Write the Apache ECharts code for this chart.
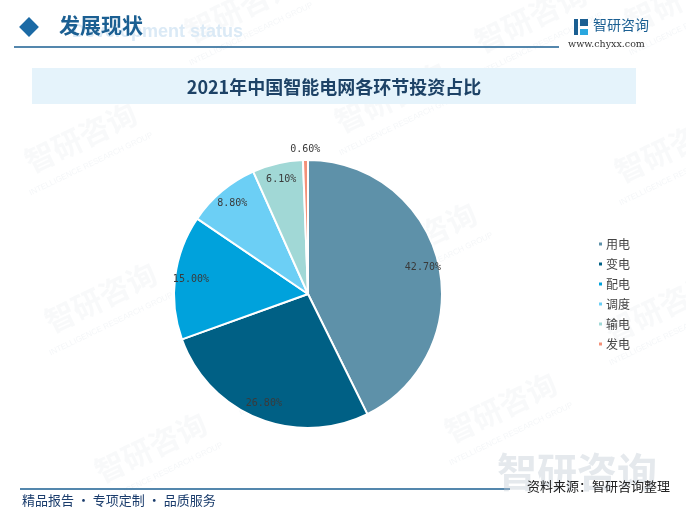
<!DOCTYPE html>
<html>
<head>
<meta charset="utf-8">
<script src="https://cdn.jsdelivr.net/npm/echarts@6/dist/echarts.min.js"></script>
<style>
  html, body { margin: 0; padding: 0; background: #fff; }
  #show_picture { width: 686px; height: 521px; }
</style>
</head>
<body>
<div id="show_picture"></div>
<script>
// 数据
const names = ['用电', '变电', '配电', '调度', '输电', '发电'];
const values = [42.7, 26.8, 15.0, 8.8, 6.1, 0.6];
const colors = ['#5e91a9', '#006085', '#00a2dc', '#6ccff5', '#a1d8d6', '#f39179'];

let myChart = echarts.init(document.getElementById('show_picture'));

const cx = 308, cy = 294;
const fontCN = '"Noto Sans CJK SC", sans-serif';

// 水印
let marks = [];
const wmPos = [[20, 150], [180, 20], [330, 110], [470, 30], [610, 160], [40, 310], [230, 370], [440, 420], [600, 320], [90, 460], [360, 250], [620, 10]];
for (let p of wmPos) {
    marks.push({
        type: 'text', x: p[0], y: p[1], rotation: Math.PI / 7, silent: true, z: 0,
        style: { text: '智研咨询', fill: 'rgba(200,210,220,0.13)', font: 'bold 30px ' + fontCN }
    });
    marks.push({
        type: 'text', x: p[0] + 8, y: p[1] + 40, rotation: Math.PI / 7, silent: true, z: 0,
        style: { text: 'INTELLIGENCE RESEARCH GROUP', fill: 'rgba(200,210,220,0.2)', font: '8px sans-serif' }
    });
}

let data = names.map((n, i) => ({ name: n, value: values[i], itemStyle: { color: colors[i] } }));

const labelStyle = {
    show: true, position: 'inside', formatter: p => p.value.toFixed(2) + '%',
    color: '#3a3a3a', fontSize: 10, fontFamily: '"DejaVu Sans Mono", monospace'
};

let option = {
    animation: false,
    backgroundColor: '#fff',
    legend: {
        orient: 'vertical',
        left: 592,
        top: 233,
        itemWidth: 5,
        itemHeight: 5,
        itemGap: 8,
        icon: 'rect',
        data: names,
        textStyle: { color: '#444', fontSize: 12, fontFamily: fontCN, padding: [0, 0, 0, -2] }
    },
    graphic: marks.concat([
        // 头部
        { type: 'rect', shape: { x: 22, y: 20, width: 14, height: 14 }, rotation: Math.PI / 4, originX: 29, originY: 27, style: { fill: '#1b6aa5' } },
        { type: 'text', x: 243, y: 23, style: { text: 'Development status', align: 'right', fill: '#dbeaf6', font: 'bold 18px Arial, sans-serif' } },
        { type: 'text', x: 59, y: 15, style: { text: '发展现状', fill: '#1b5f92', font: 'bold 21px ' + fontCN } },
        { type: 'line', shape: { x1: 14, y1: 47, x2: 559, y2: 47 }, style: { stroke: '#1b5f92', lineWidth: 1.5 } },
        { type: 'rect', shape: { x: 574, y: 19, width: 4, height: 16 }, style: { fill: '#1b5f92' } },
        { type: 'rect', shape: { x: 580, y: 19, width: 8, height: 7 }, style: { fill: '#1b5f92' } },
        { type: 'rect', shape: { x: 580, y: 29, width: 8, height: 6 }, style: { fill: '#2aa7df' } },
        { type: 'text', x: 593, y: 18, style: { text: '智研咨询', fill: '#1b5f92', font: '14px ' + fontCN } },
        { type: 'text', x: 568, y: 40, style: { text: 'www.chyxx.com', fill: '#333', font: '9.5px "DejaVu Serif", serif' } },
        // 标题框
        { type: 'rect', shape: { x: 32, y: 68, width: 604, height: 36 }, style: { fill: '#e5f3fb' } },
        { type: 'text', x: 334, y: 87, style: { text: '2021年中国智能电网各环节投资占比', align: 'center', verticalAlign: 'middle', fill: '#1d4266', font: 'bold 18px ' + fontCN } },
        // 底部
        { type: 'line', shape: { x1: 20, y1: 489, x2: 510, y2: 489 }, style: { stroke: '#1b5f92', lineWidth: 1.5 } },
        { type: 'text', x: 497, y: 452, style: { text: '智研咨询', fill: 'rgba(190,200,210,0.4)', font: 'bold 40px ' + fontCN } },
        { type: 'text', x: 22, y: 494, style: { text: '精品报告 · 专项定制 · 品质服务', fill: '#1a3c6c', font: '13px ' + fontCN } },
        { type: 'text', x: 670, y: 480, style: { text: '资料来源：智研咨询整理', align: 'right', fill: '#222', font: '13px ' + fontCN } }
    ]),
    series: [
        {
            type: 'pie',
            center: [cx, cy],
            radius: [0, 134],
            startAngle: 90,
            clockwise: true,
            avoidLabelOverlap: false,
            label: { show: false },
            labelLine: { show: false },
            itemStyle: { borderColor: '#fff', borderWidth: 2 },
            data: data,
            z: 2
        },
        {
            // 标签环（内部）
            type: 'pie',
            center: [cx, cy],
            radius: [96, 134],
            startAngle: 90,
            silent: true,
            avoidLabelOverlap: false,
            itemStyle: { color: 'rgba(0,0,0,0)' },
            label: labelStyle,
            labelLine: { show: false },
            data: names.map((n, i) => ({ name: n, value: values[i], label: { show: i < names.length - 1 } })),
            z: 3
        },
        {
            // 标签环（外部，小扇区）
            type: 'pie',
            center: [cx, cy],
            radius: [134, 150],
            startAngle: 90,
            silent: true,
            avoidLabelOverlap: false,
            itemStyle: { color: 'rgba(0,0,0,0)' },
            label: labelStyle,
            labelLine: { show: false },
            data: names.map((n, i) => ({ name: n, value: values[i], label: { show: i === names.length - 1 } })),
            z: 3
        }
    ]
};

option && myChart.setOption(option);
</script>
</body>
</html>
